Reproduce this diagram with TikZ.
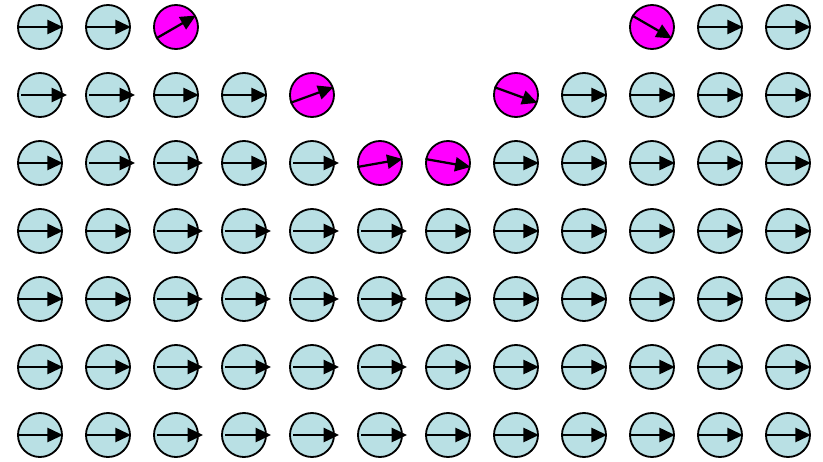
\documentclass[tikz,border=0pt]{standalone}
\usetikzlibrary{arrows.meta}

\definecolor{spinblue}{RGB}{185,224,228}
\definecolor{spinpink}{RGB}{255,0,255}

\tikzset{
  spin/.style={circle, draw, line width=1.3pt, fill=spinblue, minimum size=1.1cm, inner sep=0pt},
  flip/.style={spin, fill=spinpink},
  spinarrow/.style={-{Triangle[length=11pt,width=10pt]}, line width=1.6pt},
}

\begin{document}
\begin{tikzpicture}[x=1.7cm, y=-1.7cm]
  \useasboundingbox (-0.588,-0.397) rectangle (11.515,6.397);

  % full rows at the bottom
  \foreach \r in {3,...,6}
    \foreach \c/\s in {0/0,1/0,2/3,3/3,4/3,5/3,6/0,7/0,8/0,9/0,10/0,11/0} {
      \node[spin] (s-\r-\c) at (\c,\r) {};
      \draw[spinarrow] ([xshift=\s pt]s-\r-\c.west) -- ([xshift=\s pt]s-\r-\c.east);
    }

  % upper rows with the gap
  \foreach \r/\c/\s in {2/0/0, 2/1/3, 2/2/3, 2/3/0, 2/4/3, 2/7/0, 2/8/0, 2/9/0, 2/10/0, 2/11/0,
                        1/0/3, 1/1/3, 1/2/0, 1/3/0, 1/8/0, 1/9/0, 1/10/0, 1/11/0,
                        0/0/0, 0/1/0, 0/10/0, 0/11/0} {
    \node[spin] (s-\r-\c) at (\c,\r) {};
    \draw[spinarrow] ([xshift=\s pt]s-\r-\c.west) -- ([xshift=\s pt]s-\r-\c.east);
  }

  % tilted spins
  \foreach \r/\c/\a in {0/2/30, 0/9/-30, 1/4/20, 1/7/-20, 2/5/10, 2/6/-10} {
    \node[flip] (s-\r-\c) at (\c,\r) {};
    \draw[spinarrow] (s-\r-\c.{180+\a}) -- (s-\r-\c.\a);
  }
\end{tikzpicture}
\end{document}
